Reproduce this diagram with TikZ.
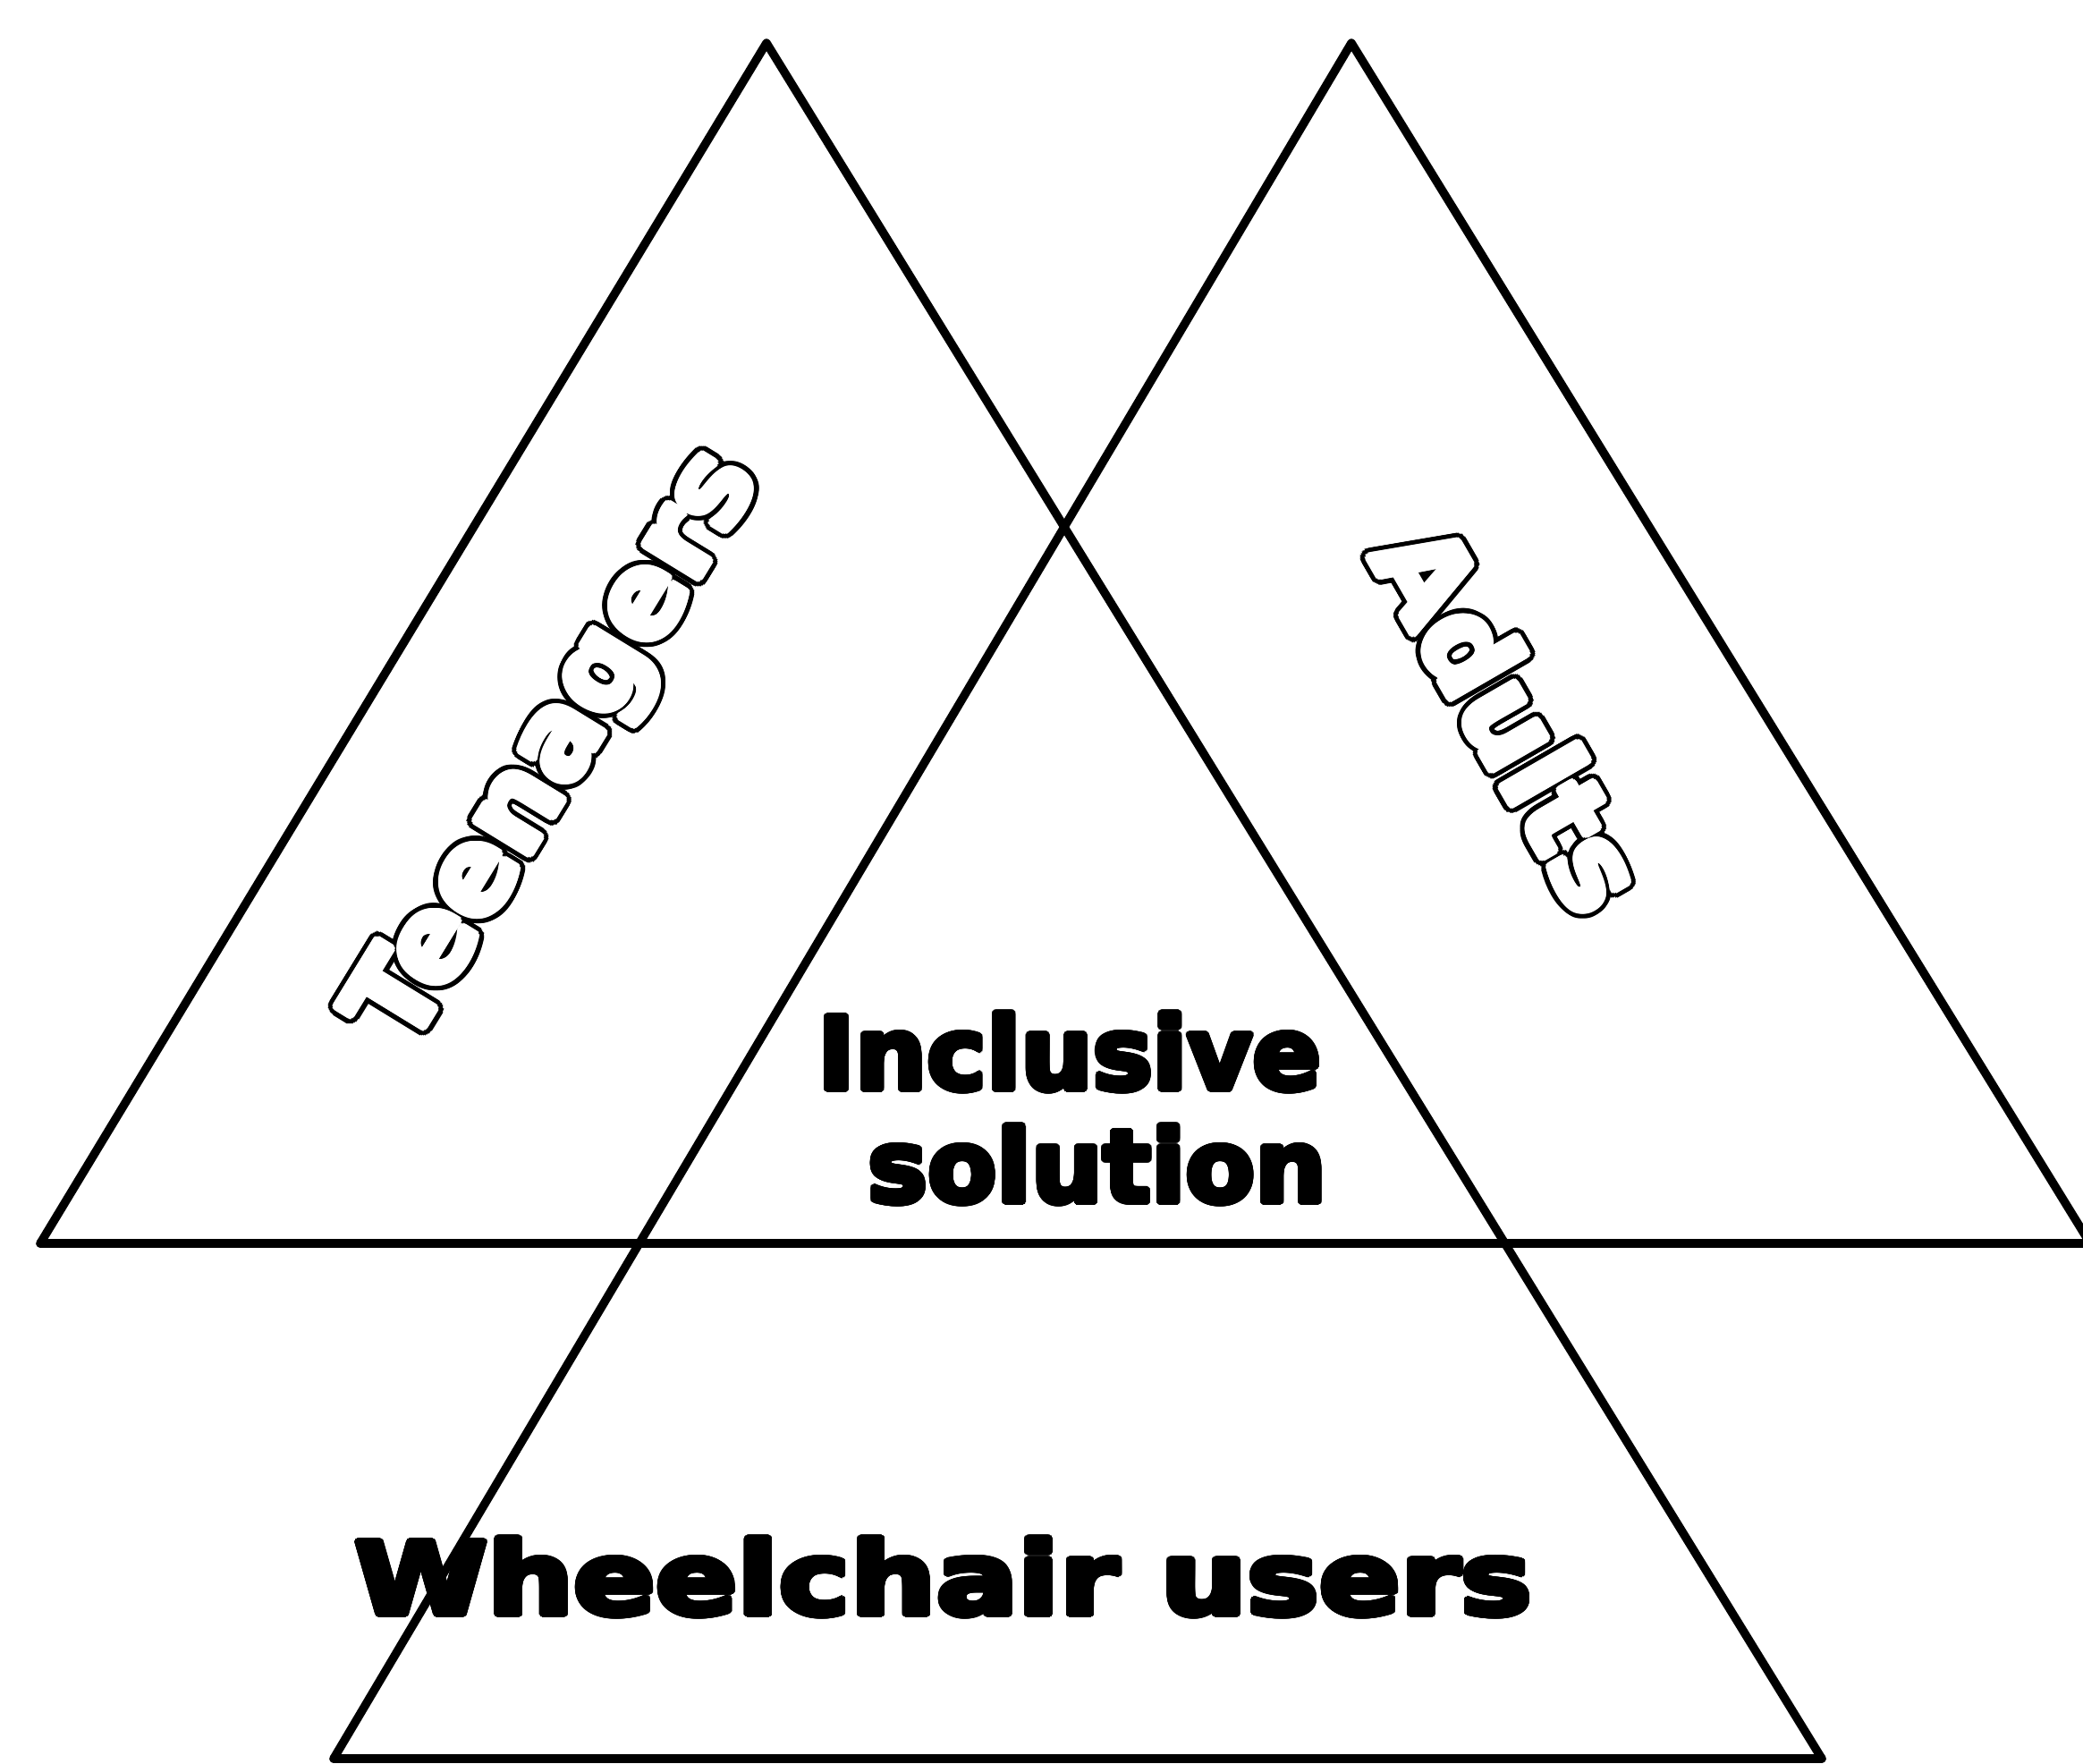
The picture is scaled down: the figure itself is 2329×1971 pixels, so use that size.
\documentclass[tikz,border=0pt]{standalone}
\usepackage{fontspec}
\setmainfont{DejaVu Sans}
\usepackage{contour}
\contournumber{32}
\tikzset{
  edge/.style={draw=black, line width=2.7pt, line join=round, line cap=round},
  hollowfont/.style={inner sep=0pt, font=\fontsize{37}{44}\selectfont\bfseries},
  heavy/.style={inner sep=0pt, font=\fontsize{32}{38}\selectfont\bfseries, text=black}
}
% #1 name, #2 position, #3 angle, #4 text
\newcommand{\outlinedlabel}[4]{%
  \foreach \a in {0,12,...,348}{\node[hollowfont, text=black, rotate=#3, shift={(\a:2.8pt)}] (#1-o\a) at #2 {#4};}
  \foreach \a in {0,20,...,340}{\node[hollowfont, text=white, rotate=#3, shift={(\a:1.3pt)}] (#1-i\a) at #2 {#4};}
  \node[hollowfont, text=white, rotate=#3] (#1) at #2 {#4};}
\newcommand{\heavytext}[1]{{\contourlength{0.9pt}\contour{black}{#1}}}
\begin{document}
\begin{tikzpicture}[x=0.01cm, y=-0.01cm]
\useasboundingbox (0,0) rectangle (2329,1971);
\begin{scope}
\clip (0,0) rectangle (2329,1971);
\coordinate (A1) at (857,48);
\coordinate (A2) at (1511,48);
\coordinate (L1) at (45,1390);
\coordinate (R2) at (2337,1390);
\coordinate (B1) at (373,1966);
\coordinate (B2) at (2037,1966);
\draw[edge] (L1) -- (A1) -- (B2);
\draw[edge] (R2) -- (A2) -- (B1);
\draw[edge] (L1) -- (R2);
\draw[edge] (B1) -- (B2);
\end{scope}
\outlinedlabel{teen}{(625,838)}{58.5}{Teenagers}
\outlinedlabel{adult}{(1690,802)}{-60}{Adults}
\node[heavy, anchor=base] (incl) at (1196,1218) {\heavytext{Inclusive}};
\node[heavy, anchor=base] (sol) at (1227,1344) {\heavytext{solution}};
\node[heavy, anchor=base, xscale=1.2] (wheel) at (1055,1805) {\heavytext{Wheelchair users}};
\end{tikzpicture}
\end{document}
